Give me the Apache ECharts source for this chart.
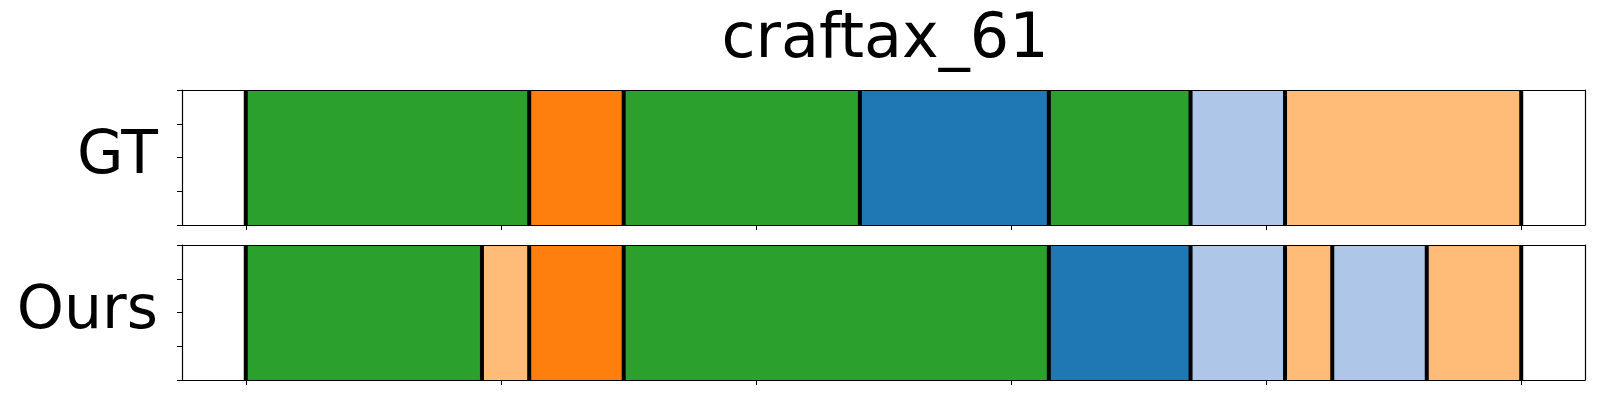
<!DOCTYPE html>
<html>
<head>
<meta charset="utf-8">
<script src="https://cdn.jsdelivr.net/npm/echarts@6/dist/echarts.min.js"></script>
<style>
html,body{margin:0;padding:0;background:#fff;}
#chart{width:1600px;height:400px;}
</style>
</head>
<body>
<div id="chart"></div>
<script>
// ---- data ----
const titleText = 'craftax_61';
const rowNames = ['GT', 'Ours'];
// class index -> colour (tab20 order)
const classColors = ['#1f77b4', '#aec7e8', '#ff7f0e', '#ffbb78', '#2ca02c'];
const gtClasses = [4, 2, 4, 0, 4, 1, 3];
const gtDurations = [6, 2, 5, 4, 3, 2, 5];
const oursClasses = [4, 3, 2, 4, 0, 1, 3, 1, 3];
const oursDurations = [5, 1, 2, 9, 3, 2, 1, 2, 2];
const totalLength = 27;
const xTickValues = [0, 5.4, 10.8, 16.2, 21.6, 27];
const yTickValues = [0, 0.25, 0.5, 0.75, 1];

function buildSegments(classes, durations) {
  const segs = [];
  let s = 0;
  for (let i = 0; i < classes.length; i++) {
    segs.push([s, s + durations[i], classes[i]]);
    s += durations[i];
  }
  return segs;
}
function buildBounds(durations) {
  const b = [0];
  let s = 0;
  for (const d of durations) { s += d; b.push(s); }
  return b;
}
const panels = [
  { name: rowNames[0], segs: buildSegments(gtClasses, gtDurations), bounds: buildBounds(gtDurations) },
  { name: rowNames[1], segs: buildSegments(oursClasses, oursDurations), bounds: buildBounds(oursDurations) }
];

const chart = echarts.init(document.getElementById('chart'), null, { renderer: 'canvas' });
const FONT = 'DejaVu Sans';
const margin = totalLength * 0.05;

const grids = [
  { left: 182, right: 15, top: 90, height: 135, show: false },
  { left: 182, right: 15, top: 245, height: 135, show: false }
];
const xAxes = [], yAxes = [], series = [];
panels.forEach((p, i) => {
  xAxes.push({
    type: 'value', gridIndex: i, min: -margin, max: totalLength + margin, position: 'bottom',
    z: 10,
    axisLine: { show: true, onZero: false, lineStyle: { color: '#000', width: 1.2 } },
    axisTick: { show: true, customValues: xTickValues, length: 5, lineStyle: { color: '#000', width: 1 } },
    axisLabel: { show: false },
    splitLine: { show: false }
  });
  xAxes.push({
    type: 'value', gridIndex: i, min: -margin, max: totalLength + margin, position: 'top',
    z: 10,
    axisLine: { show: true, onZero: false, lineStyle: { color: '#000', width: 1.2 } },
    axisTick: { show: false }, axisLabel: { show: false }, splitLine: { show: false }
  });
  yAxes.push({
    type: 'value', gridIndex: i, min: 0, max: 1, position: 'left',
    z: 10,
    name: p.name, nameLocation: 'middle', nameRotate: 0, nameGap: 24,
    nameTextStyle: { fontFamily: FONT, fontSize: 60, color: '#000', align: 'right', verticalAlign: 'middle' },
    axisLine: { show: true, onZero: false, lineStyle: { color: '#000', width: 1.2 } },
    axisTick: { show: true, customValues: yTickValues, length: 5, lineStyle: { color: '#000', width: 1 } },
    axisLabel: { show: false },
    splitLine: { show: false }
  });
  yAxes.push({
    type: 'value', gridIndex: i, min: 0, max: 1, position: 'right',
    z: 10,
    axisLine: { show: true, onZero: false, lineStyle: { color: '#000', width: 1.2 } },
    axisTick: { show: false }, axisLabel: { show: false }, splitLine: { show: false }
  });
  series.push({
    type: 'custom',
    xAxisIndex: i * 2, yAxisIndex: i * 2,
    data: p.segs,
    z: 2,
    renderItem: function (params, api) {
      const a = api.coord([api.value(0), 1]);
      const b = api.coord([api.value(1), 0]);
      return {
        type: 'rect',
        shape: { x: a[0], y: a[1], width: b[0] - a[0], height: b[1] - a[1] },
        style: { fill: classColors[api.value(2)] }
      };
    }
  });
  series.push({
    type: 'custom',
    xAxisIndex: i * 2, yAxisIndex: i * 2,
    data: p.bounds.map(v => [v]),
    z: 3,
    renderItem: function (params, api) {
      const a = api.coord([api.value(0), 1]);
      const b = api.coord([api.value(0), 0]);
      return {
        type: 'line',
        shape: { x1: a[0], y1: a[1], x2: b[0], y2: b[1] },
        style: { stroke: '#000', lineWidth: 4 }
      };
    }
  });
});

chart.setOption({
  animation: false,
  backgroundColor: '#fff',
  title: {
    text: titleText, left: 880, top: 5, textAlign: 'center',
    textStyle: { fontFamily: FONT, fontSize: 62, fontWeight: 'normal', color: '#000' }
  },
  grid: grids,
  xAxis: xAxes,
  yAxis: yAxes,
  series: series
});
</script>
</body>
</html>
